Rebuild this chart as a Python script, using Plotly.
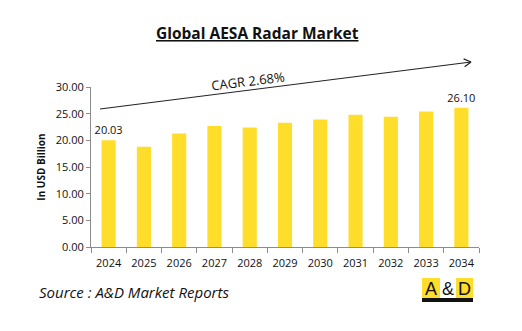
import math
import plotly.graph_objects as go

years = ["2024", "2025", "2026", "2027", "2028", "2029", "2030", "2031", "2032", "2033", "2034"]
values = [20.03, 18.8, 21.3, 22.7, 22.4, 23.3, 23.9, 24.8, 24.4, 25.4, 26.10]
labels = ["20.03", "", "", "", "", "", "", "", "", "", "26.10"]
y_ticks = [0, 5, 10, 15, 20, 25, 30]
y_tick_text = ["0.00", "5.00", "10.00", "15.00", "20.00", "25.00", "30.00"]

W, H = 522, 331
fig = go.Figure()
fig.add_trace(go.Bar(
    x=years, y=values, text=labels, textposition="outside", constraintext="none",
    textfont=dict(family="Open Sans, sans-serif", size=11, color="#111"),
    marker=dict(color="#FFDD2B", line=dict(width=0)),
    width=0.4, cliponaxis=False, showlegend=False,
))

fig.update_layout(
    width=W, height=H,
    margin=dict(l=91, r=43, t=87, b=84),
    paper_bgcolor="white", plot_bgcolor="white",
    font=dict(family="Open Sans, sans-serif", color="#111"),
    xaxis=dict(type="category", showline=True, linecolor="#8c8c8c", linewidth=1,
               ticks="outside", tickson="boundaries", ticklen=5, tickcolor="#8c8c8c",
               ticklabelstandoff=6,
               tickfont=dict(size=11, color="#111"), showgrid=False),
    yaxis=dict(range=[0, 30], tickvals=y_ticks, ticktext=y_tick_text,
               showline=True, linecolor="#8c8c8c", linewidth=1,
               ticks="outside", ticklen=4, tickcolor="#8c8c8c",
               tickfont=dict(size=11, color="#111"), showgrid=False, zeroline=False,
               title=dict(text="<b>In USD Billion</b>", font=dict(size=10, color="#111"), standoff=8)),
)

def px_x(v):
    return (v - 91) / 388
def px_y(v):
    return (247 - v) / 160

# Title
fig.add_annotation(text="<b><u>Global AESA Radar Market</u></b>", xref="paper", yref="paper",
                   x=px_x(257), y=px_y(33), showarrow=False,
                   font=dict(size=15.5, color="#111"), xanchor="center", yanchor="middle")

# CAGR arrow (line + open chevron head)
x0p, y0p, x1p, y1p = 100, 109, 471, 62
fig.add_shape(type="line", xref="paper", yref="paper", x0=px_x(x0p), y0=px_y(y0p), x1=px_x(x1p), y1=px_y(y1p),
              line=dict(color="#222", width=1.2))
ang = math.atan2(y1p - y0p, x1p - x0p)
for d in (math.radians(150), math.radians(-150)):
    ex = x1p + 8 * math.cos(ang + d)
    ey = y1p + 8 * math.sin(ang + d)
    fig.add_shape(type="line", xref="paper", yref="paper", x0=px_x(x1p), y0=px_y(y1p), x1=px_x(ex), y1=px_y(ey),
                  line=dict(color="#222", width=1.2))
fig.add_annotation(text="CAGR 2.68%", xref="paper", yref="paper",
                   x=px_x(248), y=px_y(81), showarrow=False,
                   textangle=-7.2, font=dict(size=13, color="#111"),
                   xanchor="center", yanchor="middle")

# Source
fig.add_annotation(text="<i>Source : A&amp;D Market Reports</i>", xref="paper", yref="paper",
                   x=px_x(37), y=px_y(292), showarrow=False,
                   font=dict(size=15, color="#111"), xanchor="left", yanchor="middle")

# Logo
fig.add_shape(type="rect", xref="paper", yref="paper", x0=px_x(422), x1=px_x(473), y0=px_y(298), y1=px_y(278),
              fillcolor="#FFDD2B", line=dict(width=0))
fig.add_shape(type="rect", xref="paper", yref="paper", x0=px_x(440), x1=px_x(456), y0=px_y(298), y1=px_y(278),
              fillcolor="white", line=dict(width=0))
fig.add_shape(type="rect", xref="paper", yref="paper", x0=px_x(422), x1=px_x(473), y0=px_y(302), y1=px_y(298),
              fillcolor="#111", line=dict(width=0))
for ch, cx in [("A", 431), ("&amp;", 448), ("D", 464.5)]:
    fig.add_annotation(text=ch, xref="paper", yref="paper", x=px_x(cx), y=px_y(288.5),
                       showarrow=False, font=dict(family="Liberation Sans, sans-serif", size=18, color="#111"),
                       xanchor="center", yanchor="middle")

fig.write_html("out.html")
